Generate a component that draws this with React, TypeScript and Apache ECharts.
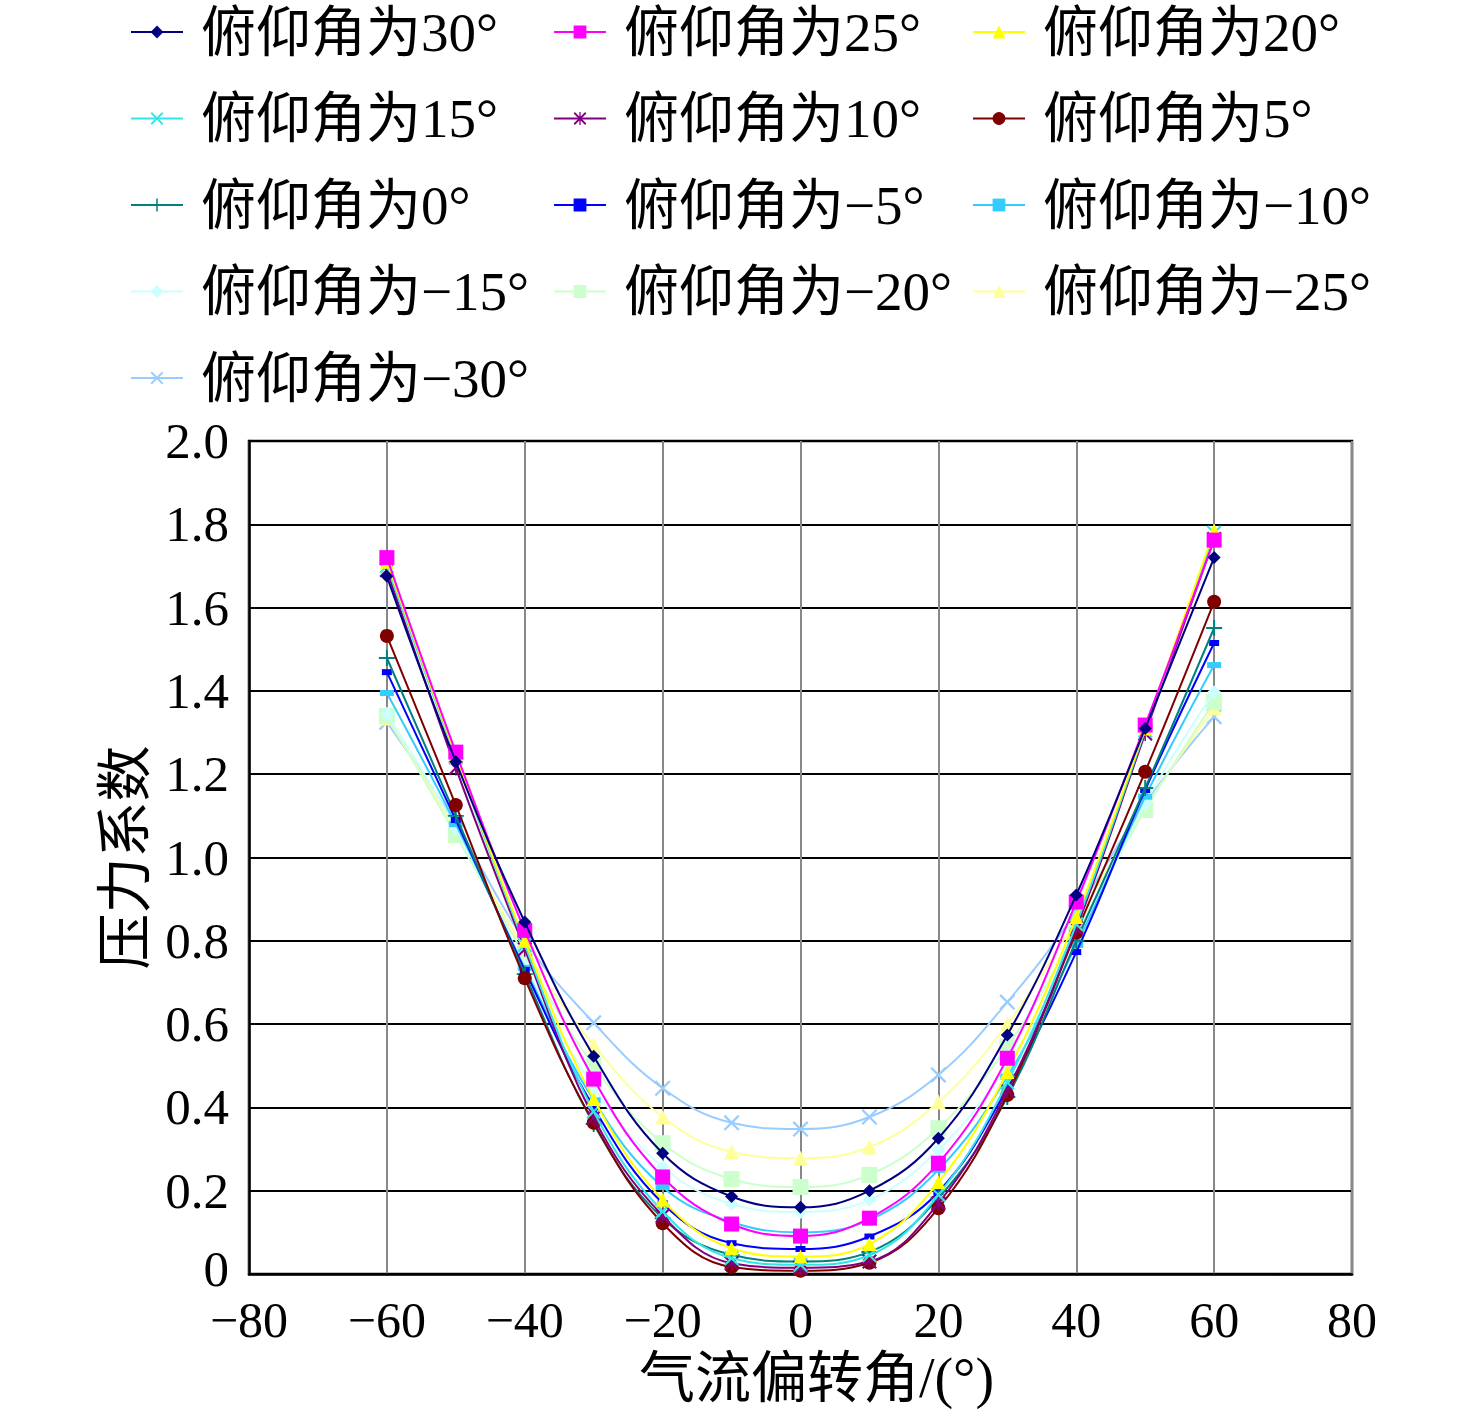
import React, { useEffect, useRef } from "react";
import * as echarts from "echarts";

const xValues = [-60, -50, -40, -30, -20, -10, 0, 10, 20, 30, 40, 50, 60];

const seriesNames = [
  "俯仰角为30°", "俯仰角为25°", "俯仰角为20°",
  "俯仰角为15°", "俯仰角为10°", "俯仰角为5°",
  "俯仰角为0°", "俯仰角为−5°", "俯仰角为−10°",
  "俯仰角为−15°", "俯仰角为−20°", "俯仰角为−25°",
  "俯仰角为−30°",
];

const p30 = [1.675, 1.23, 0.845, 0.523, 0.29, 0.186, 0.16, 0.2, 0.326, 0.574, 0.91, 1.31, 1.72];
const p25 = [1.72, 1.253, 0.825, 0.468, 0.233, 0.12, 0.091, 0.134, 0.266, 0.518, 0.893, 1.318, 1.762];
const p20 = [1.71, 1.245, 0.8, 0.42, 0.178, 0.062, 0.042, 0.072, 0.22, 0.485, 0.857, 1.31, 1.785];
const p15 = [1.7, 1.24, 0.79, 0.39, 0.15, 0.038, 0.022, 0.045, 0.19, 0.46, 0.84, 1.305, 1.78];
const p10 = [1.69, 1.215, 0.78, 0.375, 0.14, 0.026, 0.015, 0.03, 0.17, 0.44, 0.83, 1.298, 1.765];
const p5 = [1.532, 1.126, 0.71, 0.363, 0.122, 0.017, 0.008, 0.027, 0.158, 0.43, 0.82, 1.206, 1.614];
const p0 = [1.479, 1.1, 0.72, 0.36, 0.134, 0.046, 0.03, 0.053, 0.182, 0.425, 0.8, 1.167, 1.551];
const m5 = [1.445, 1.09, 0.73, 0.4, 0.17, 0.074, 0.06, 0.09, 0.197, 0.446, 0.773, 1.162, 1.515];
const m10 = [1.395, 1.08, 0.735, 0.417, 0.209, 0.125, 0.1, 0.13, 0.25, 0.474, 0.79, 1.146, 1.462];
const m15 = [1.345, 1.07, 0.74, 0.448, 0.257, 0.168, 0.149, 0.178, 0.298, 0.502, 0.79, 1.13, 1.397];
const m20 = [1.34, 1.054, 0.765, 0.5, 0.314, 0.228, 0.209, 0.238, 0.35, 0.546, 0.82, 1.114, 1.373];
const m25 = [1.335, 1.066, 0.78, 0.55, 0.377, 0.293, 0.278, 0.305, 0.413, 0.6, 0.85, 1.12, 1.359];
const m30 = [1.325, 1.08, 0.8, 0.603, 0.446, 0.363, 0.348, 0.377, 0.478, 0.653, 0.87, 1.13, 1.338];

const seriesValues = [p30, p25, p20, p15, p10, p5, p0, m5, m10, m15, m20, m25, m30];

const colors = [
  "#000080", "#FF00FF", "#FFFF00",
  "#33E6E6", "#800080", "#800000",
  "#008080", "#0000FF", "#33CCFF",
  "#CCFFFF", "#CCFFCC", "#FFFF99",
  "#99CCFF",
];

const X_PATH = "path://M0,1L1,0L10,9L9,10Z M9,0L10,1L1,10L0,9Z";
const STAR_PATH = "path://M0,1L1,0L10,9L9,10Z M9,0L10,1L1,10L0,9Z M4.5,0H5.5V10H4.5Z";
const PLUS_PATH = "path://M4.4,0H5.6V10H4.4Z M0,4.4H10V5.6H0Z";

const symbols: any[] = [
  "diamond", "rect", "triangle",
  X_PATH, STAR_PATH, "circle",
  PLUS_PATH, "rect", "rect",
  "diamond", "rect", "triangle",
  X_PATH,
];
const symbolSizes: any[] = [
  13, 15, 14,
  15, 15, 14,
  16, [10, 6], [14, 6],
  14, 16, 15,
  16,
];

const FONT = '"Liberation Serif", "Noto Sans CJK SC", serif';
const minus = (v: number) => (v < 0 ? "−" + Math.abs(v) : String(v));

export default function App() {
  const ref = useRef<HTMLDivElement>(null);
  useEffect(() => {
    document.body.style.margin = "0";
    const chart = echarts.init(ref.current!, undefined, { renderer: "svg" });
    const legendCols = [
      { left: 130, items: [0, 3, 6, 9, 12] },
      { left: 553, items: [1, 4, 7, 10] },
      { left: 972, items: [2, 5, 8, 11] },
    ];
    chart.setOption({
      animation: false,
      backgroundColor: "#ffffff",
      textStyle: { fontFamily: FONT },
      legend: legendCols.map((c) => ({
        orient: "vertical",
        left: c.left,
        top: 2,
        padding: 0,
        itemGap: 26.5,
        itemWidth: 52,
        itemHeight: 16,
        data: c.items.map((i) => seriesNames[i]),
        textStyle: {
          fontSize: 55,
          lineHeight: 60,
          color: "#000",
          fontFamily: FONT,
          padding: [0, 0, 0, 13],
        },
      })),
      grid: {
        left: 249,
        right: 124,
        top: 441,
        bottom: 142,
        show: true,
        borderColor: "#000",
        borderWidth: 2.5,
      },
      xAxis: {
        type: "value",
        min: -80,
        max: 80,
        interval: 20,
        name: "气流偏转角/(°)",
        nameLocation: "middle",
        nameGap: 74,
        nameTextStyle: { fontSize: 56, color: "#000", fontFamily: FONT, padding: [0, 0, 0, 32] },
        axisLine: { show: true, onZero: false, lineStyle: { color: "#000", width: 2.5 } },
        axisTick: { show: false },
        axisLabel: {
          fontSize: 50,
          lineHeight: 40,
          color: "#000",
          margin: 26,
          fontFamily: FONT,
          formatter: (v: number) => minus(v),
        },
        splitLine: { show: true, lineStyle: { color: "#888", width: 2 } },
      },
      yAxis: {
        type: "value",
        min: 0,
        max: 2,
        interval: 0.2,
        name: "压力系数",
        nameLocation: "middle",
        nameGap: 96,
        nameRotate: 90,
        nameTextStyle: { fontSize: 56, color: "#000", fontFamily: FONT },
        axisLine: { show: true, onZero: false, lineStyle: { color: "#000", width: 2.5 } },
        axisTick: { show: false },
        axisLabel: {
          fontSize: 51,
          lineHeight: 40,
          color: "#000",
          margin: 20,
          fontFamily: FONT,
          formatter: (v: number) => (Math.abs(v) < 1e-9 ? "{z|0}" : v.toFixed(1)),
          rich: {
            z: { fontSize: 51, lineHeight: 40, fontFamily: FONT, color: "#000", padding: [0, 0, 10, 0] },
          },
        },
        splitLine: { show: true, lineStyle: { color: "#000", width: 2 } },
      },
      series: seriesNames.map((name, i) => ({
        name,
        type: "line",
        smooth: 0.4,
        symbol: symbols[i],
        symbolSize: symbolSizes[i],
        showSymbol: true,
        data: xValues.map((x, j) => [x, seriesValues[i][j]]),
        lineStyle: { color: colors[i], width: 2 },
        itemStyle: { color: colors[i] },
        emphasis: { disabled: true },
        z: 20 - i,
      })),
    });
    return () => chart.dispose();
  }, []);
  return <div ref={ref} style={{ width: 1476, height: 1416 }} />;
}
